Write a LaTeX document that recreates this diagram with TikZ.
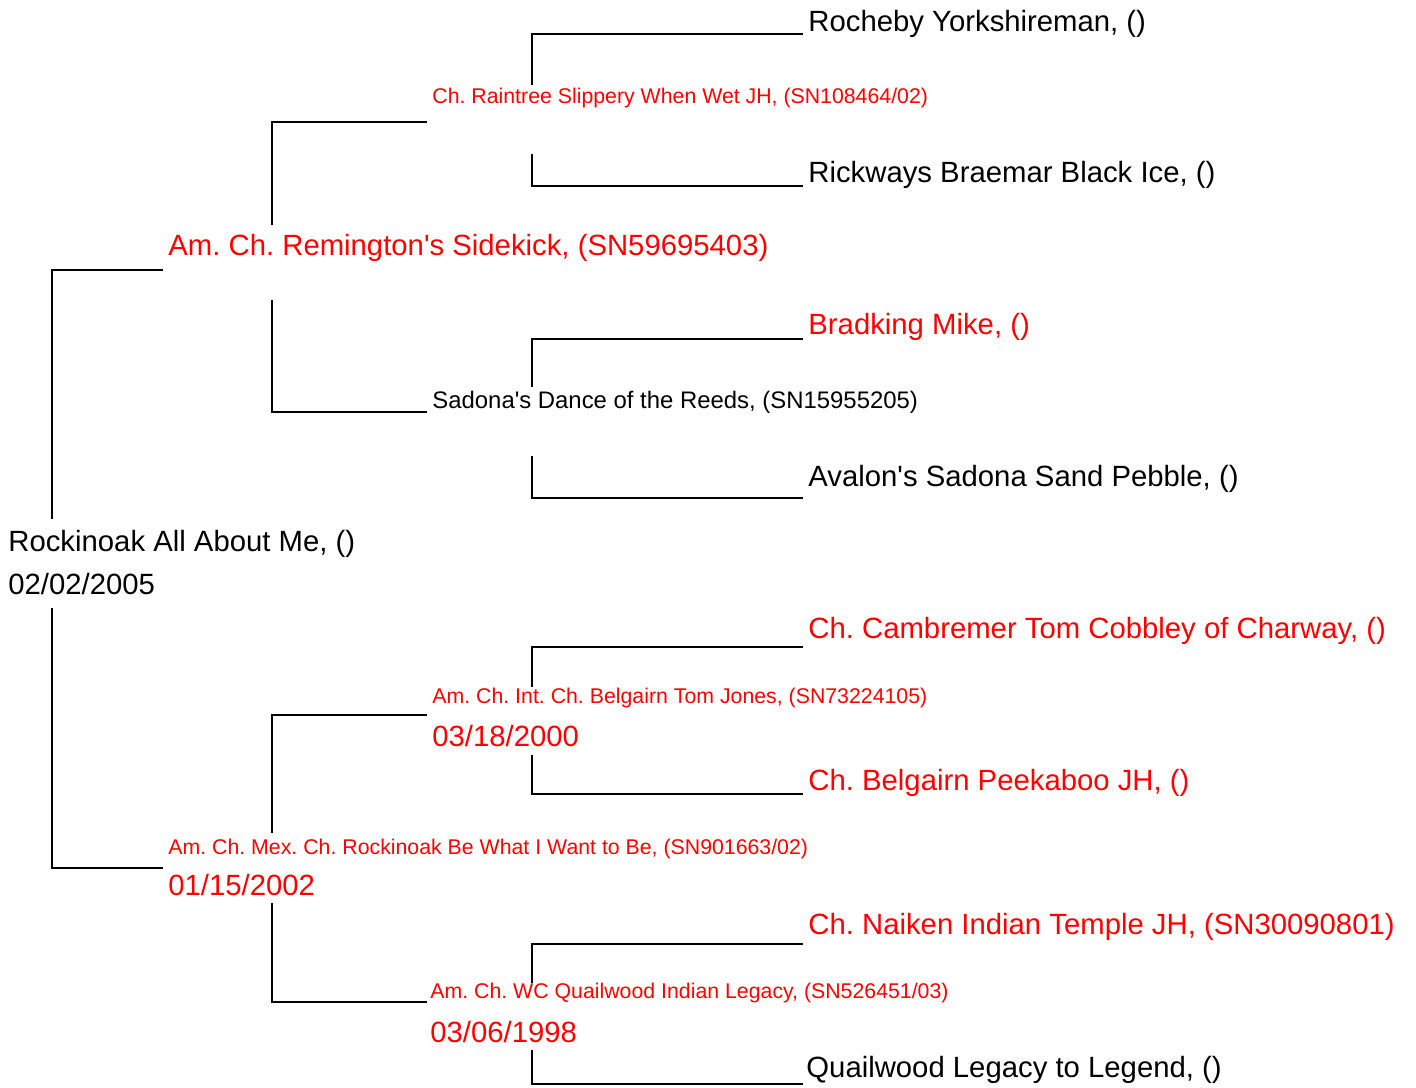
\documentclass[tikz,border=0pt]{standalone}
\usepackage{fontspec}
\setmainfont{Liberation Sans}[Ligatures=TeXOff]
\usetikzlibrary{positioning}
\frenchspacing

\tikzset{
  big/.style={anchor=base west, inner sep=0pt, font=\fontsize{14.65}{17}\selectfont},
  mid/.style={anchor=base west, inner sep=0pt, font=\fontsize{11.95}{14}\selectfont},
  small/.style={anchor=base west, inner sep=0pt, font=\fontsize{10.65}{13}\selectfont},
  bracket/.style={line width=1.2pt},
}

\begin{document}
\begin{tikzpicture}[x=0.5pt,y=-0.5pt]
    \useasboundingbox (0,0) rectangle (1416,1087);

    % dog and parents
    \node[big] (r) at (8,551) {Rockinoak All About Me, ()};
    \node[big] (rdate) at (8,594) {02/02/2005};
    \node[big,red] (s) at (168,255) {Am. Ch. Remington's Sidekick, (SN59695403)};
    \node[small,red] (d) at (168,854) {Am. Ch. Mex. Ch. Rockinoak Be What I Want to Be, (SN901663/02)};
    \node[big,red] (ddate) at (168,895) {01/15/2002};

    % grandparents
    \node[small,red] (ss) at (432,103) {Ch. Raintree Slippery When Wet JH, (SN108464/02)};
    \node[mid] (sd) at (432,408) {Sadona's Dance of the Reeds, (SN15955205)};
    \node[small,red] (ds) at (432,703) {Am. Ch. Int. Ch. Belgairn Tom Jones, (SN73224105)};
    \node[big,red] (dsdate) at (432,746) {03/18/2000};
    \node[small,red] (dd) at (430,998) {Am. Ch. WC Quailwood Indian Legacy, (SN526451/03)};
    \node[big,red] (dddate) at (430,1042) {03/06/1998};

    % great-grandparents
    \node[big] (sss) at (808,31) {Rocheby Yorkshireman, ()};
    \node[big] (ssd) at (808,182) {Rickways Braemar Black Ice, ()};
    \node[big,red] (sds) at (808,334) {Bradking Mike, ()};
    \node[big] (sdd) at (808,486) {Avalon's Sadona Sand Pebble, ()};
    \node[big,red] (dss) at (808,638) {Ch. Cambremer Tom Cobbley of Charway, ()};
    \node[big,red] (dsd) at (808,790) {Ch. Belgairn Peekaboo JH, ()};
    \node[big,red] (dds) at (808,934) {Ch. Naiken Indian Temple JH, (SN30090801)};
    \node[big] (ddd) at (806,1077) {Quailwood Legacy to Legend, ()};

    % brackets
    \foreach \n/\x/\w/\a/\b/\c/\e in {
        r/52/163/270/519/608/868,
        s/272/427/122/225/300/412,
        d/272/427/715/833/903/1002,
        ss/532/803/34/85/154/186,
        sd/532/803/339/387/456/498,
        ds/532/803/647/687/755/794,
        dd/532/803/944/983/1050/1084}
    {
        \coordinate (\n-a) at (\x,\b);
        \coordinate (\n-b) at (\w,\a);
        \coordinate (\n-c) at (\x,\c);
        \coordinate (\n-d) at (\w,\e);
        \draw[bracket] (\n-a) |- (\n-b);
        \draw[bracket] (\n-c) |- (\n-d);
    }
\end{tikzpicture}
\end{document}
